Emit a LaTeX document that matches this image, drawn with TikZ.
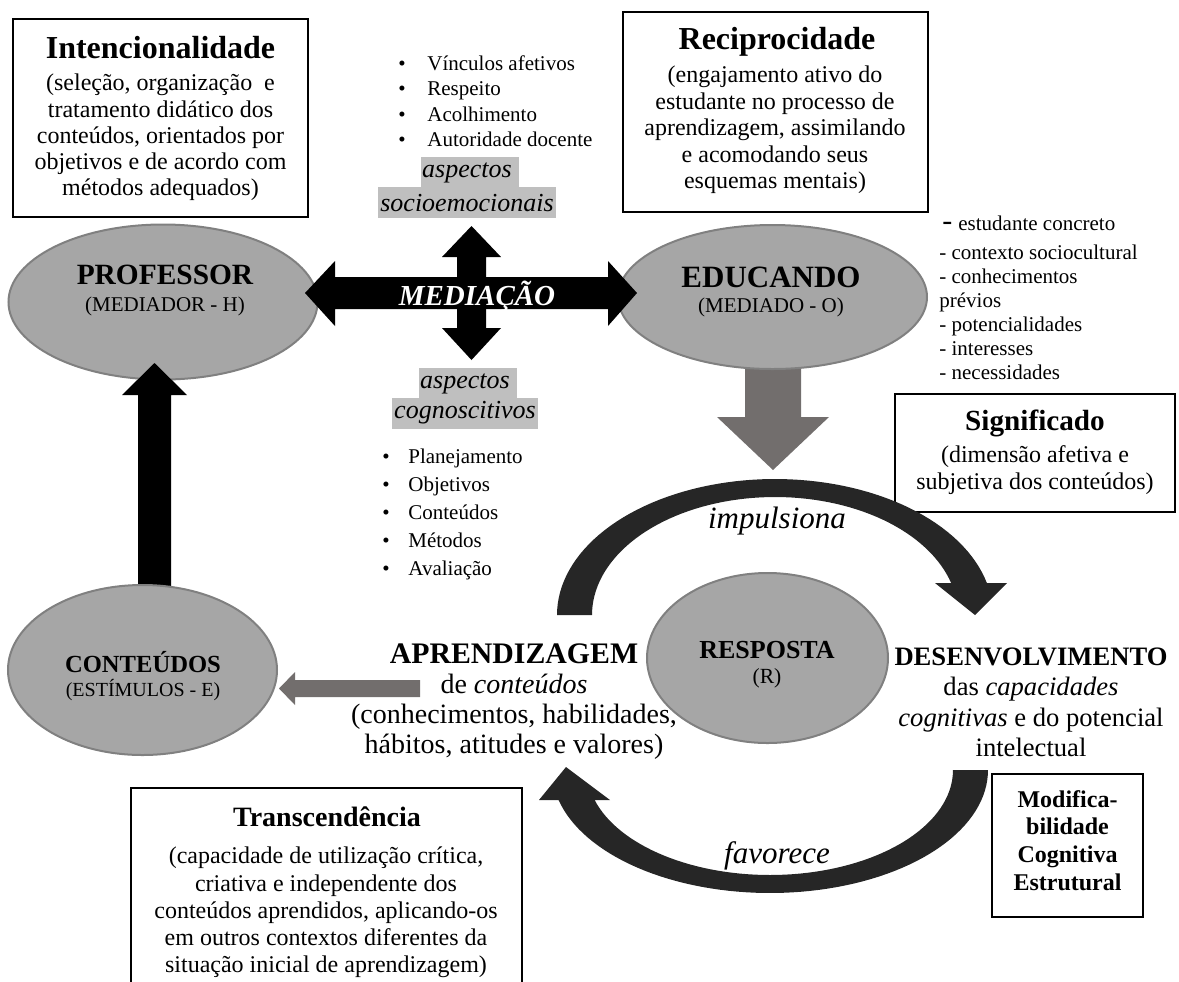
\documentclass[tikz,border=0pt]{standalone}
\usepackage{fontspec}
\setmainfont{Liberation Serif}
\usetikzlibrary{shapes.geometric}
\definecolor{ellfill}{RGB}{166,166,166}
\definecolor{elldraw}{RGB}{128,128,128}
\definecolor{hlgray}{RGB}{191,191,191}
\definecolor{garrow}{RGB}{114,110,109}
\definecolor{carrow}{RGB}{38,38,38}
\newcommand\mybula{\makebox[14.5pt][l]{\textbullet}}
\newcommand\mybulb{\makebox[13pt][l]{\textbullet}}
\begin{document}
\begin{tikzpicture}[x=0.5pt,y=-0.5pt,
  ell/.style={ellipse, fill=ellfill, draw=elldraw, line width=1pt, inner sep=0pt},
  framebox/.style={draw=black, line width=0.8pt, inner sep=0pt},
  txt/.style={inner sep=0pt, align=center},
  ltxt/.style={inner sep=0pt, align=left, anchor=west},
  arrowtxt/.style={inner sep=0pt, font=\fontsize{15.5}{17}\selectfont\itshape}]
\useasboundingbox (0,0) rectangle (1179,981);

% ---------- boxes ----------
\node[framebox, minimum width=147.5pt, minimum height=99pt] (intbox) at (160.5,118) {};
\node[txt, font=\fontsize{16}{19}\selectfont\bfseries] (inttitle) at (160.5,48) {Intencionalidade};
\node[txt, font=\fontsize{12}{13.1}\selectfont] (intbody) at (160.5,137.5)
  {(seleção, organização~ e\\tratamento didático dos\\conteúdos, orientados por\\objetivos e de acordo com\\métodos adequados)};

\node[framebox, minimum width=152.5pt, minimum height=100pt] (recbox) at (775.5,112) {};
\node[txt, font=\fontsize{16}{19}\selectfont\bfseries] (rectitle) at (777,42) {Reciprocidade};
\node[txt, font=\fontsize{12}{13.3}\selectfont] (recbody) at (775,130)
  {(engajamento ativo do\\estudante no processo de\\aprendizagem, assimilando\\e acomodando seus\\esquemas mentais)};

\node[framebox, minimum width=140pt, minimum height=59pt] (sigbox) at (1035,453) {};
\node[txt, font=\fontsize{14.6}{17}\selectfont\bfseries] (sigtitle) at (1035,423) {Significado};
\node[txt, font=\fontsize{12}{13.5}\selectfont] (sigbody) at (1035,470)
  {(dimensão afetiva e\\subjetiva dos conteúdos)};

\node[framebox, minimum width=75.5pt, minimum height=71.5pt] (modbox) at (1067.5,845.5) {};
\node[txt, font=\fontsize{12}{13.85}\selectfont\bfseries] (modtext) at (1067.5,840.5)
  {Modifica-\\bilidade\\Cognitiva\\Estrutural};

\draw[line width=0.8pt] (131,990) -- (131,788) -- (522,788) -- (522,990);
\node[txt, font=\fontsize{14}{17}\selectfont\bfseries] (trantitle) at (327,817) {Transcendência};
\node[txt, font=\fontsize{12}{13.6}\selectfont] (tranbody) at (326,912.5)
  {(capacidade de utilização crítica,\\criativa e independente dos\\conteúdos aprendidos, aplicando-os\\em outros contextos diferentes da\\situação inicial de aprendizagem)};

% ---------- lists ----------
\node[ltxt, font=\fontsize{10.5}{12.75}\selectfont] (vlist) at (398,101)
  {\mybula Vínculos afetivos\\\mybula Respeito\\\mybula Acolhimento\\\mybula Autoridade docente};
\node[ltxt, font=\fontsize{10.5}{13.9}\selectfont] (plist) at (382,514.5)
  {\mybulb Planejamento\\\mybulb Objetivos\\\mybulb Conteúdos\\\mybulb Métodos\\\mybulb Avaliação};
\node[ltxt, font=\fontsize{10.5}{12}\selectfont] (rfirst) at (942,223)
  {{\fontsize{15}{15}\selectfont -}\hspace{3pt}estudante concreto};
\node[ltxt, font=\fontsize{10.5}{12}\selectfont] (rlist) at (939,312)
  {- contexto sociocultural\\- conhecimentos\\prévios\\- potencialidades\\- interesses\\- necessidades};

% ---------- highlighted labels ----------
\fill[hlgray] (421,157) rectangle (519,187);
\fill[hlgray] (378,187) rectangle (556,218);
\node[txt, font=\fontsize{13}{15}\selectfont\itshape] (asp1) at (467,173) {aspectos};
\node[txt, font=\fontsize{13}{15}\selectfont\itshape] (socio) at (467,203) {socioemocionais};
\fill[hlgray] (419,368) rectangle (517,398);
\fill[hlgray] (392,398) rectangle (538,429);
\node[txt, font=\fontsize{13}{15}\selectfont\itshape] (asp2) at (465,384) {aspectos};
\node[txt, font=\fontsize{13}{15}\selectfont\itshape] (cogn) at (465,413) {cognoscitivos};

% ---------- ellipses and block arrows ----------
\node[ell, minimum width=154.5pt, minimum height=77.5pt] (prof) at (163,302) {};
\fill[black] (138,590) -- (138,395) -- (122,395) -- (154.5,363) -- (187,395) -- (171,395) -- (171,590) -- cycle;
\node[ell, minimum width=134.5pt, minimum height=85pt] (cont) at (142.5,670) {};
\fill[garrow] (745,340) -- (745,417) -- (717,417) -- (773,470) -- (829,417) -- (801,417) -- (801,340) -- cycle;
\node[ell, minimum width=154.5pt, minimum height=72pt] (edu) at (772.5,297) {};
\node[ell, minimum width=120.5pt, minimum height=85pt] (resp) at (767.5,658) {};

% mediation cross
\fill[black] (305,293) -- (335,261) -- (335,277) -- (608,277) -- (608,261) -- (637,293) -- (608,326) -- (608,309) -- (335,309) -- (335,326) -- cycle;
\fill[black] (471.5,226) -- (501,257) -- (486,257) -- (486,328) -- (501,328) -- (471.5,360) -- (442,328) -- (457,328) -- (457,257) -- (442,257) -- cycle;
\node[txt, text=white, font=\fontsize{14.5}{17}\selectfont\bfseries\itshape] (med) at (477,296) {MEDIAÇÃO};

% gray left arrow
\fill[garrow] (420,680) -- (295,680) -- (295,672) -- (279,688.5) -- (295,705) -- (295,697) -- (420,697) -- cycle;

% curved arrows
\fill[carrow] plot[domain=180:13.6, samples=70] ({775+218*cos(\x)},{615-136*sin(\x)})
  -- (1007,583) -- (975,615) -- (935,583)
  -- plot[domain=15.7:180, samples=70] ({775+183*cos(\x)},{615-118*sin(\x)}) -- cycle;
\fill[carrow] plot[domain=0:165.87, samples=70] ({770+218*cos(\x)},{770+123*sin(\x)})
  -- (539,800) -- (566,767) -- (610,800)
  -- plot[domain=163.4:0, samples=70] ({770+183*cos(\x)},{770+105*sin(\x)}) -- cycle;
\node[arrowtxt] (impul) at (777,521) {impulsiona};
\node[arrowtxt] (favor) at (777,856) {favorece};

% ---------- ellipse texts ----------
\node[txt, font=\fontsize{14.7}{17}\selectfont\bfseries] (proft) at (165,275) {PROFESSOR};
\node[txt, font=\fontsize{10.5}{12}\selectfont] (profs) at (165,306) {(MEDIADOR - H)};
\node[txt, font=\fontsize{15.5}{17}\selectfont\bfseries] (edut) at (771,277) {EDUCANDO};
\node[txt, font=\fontsize{10.5}{12}\selectfont] (edus) at (771,307) {(MEDIADO - O)};
\node[txt, font=\fontsize{12.3}{14}\selectfont\bfseries] (contt) at (143,662) {CONTEÚDOS};
\node[txt, font=\fontsize{10}{12}\selectfont] (conts) at (143,690) {(ESTÍMULOS - E)};
\node[txt, font=\fontsize{13}{15}\selectfont\bfseries] (respt) at (767,650) {RESPOSTA};
\node[txt, font=\fontsize{10.8}{12}\selectfont] (resps) at (767,678) {(R)};

% ---------- side texts ----------
\node[txt, font=\fontsize{14}{15}\selectfont] (aprend) at (514,702)
  {{\fontsize{14.9}{15}\selectfont\bfseries APRENDIZAGEM}\\de \textit{conteúdos}\\(conhecimentos, habilidades,\\hábitos, atitudes e valores)};
\node[txt, font=\fontsize{13.3}{15.2}\selectfont] (desenv) at (1031,702.5)
  {{\bfseries DESENVOLVIMENTO}\\das \textit{capacidades}\\\textit{cognitivas} e do potencial\\intelectual};
\end{tikzpicture}
\end{document}
